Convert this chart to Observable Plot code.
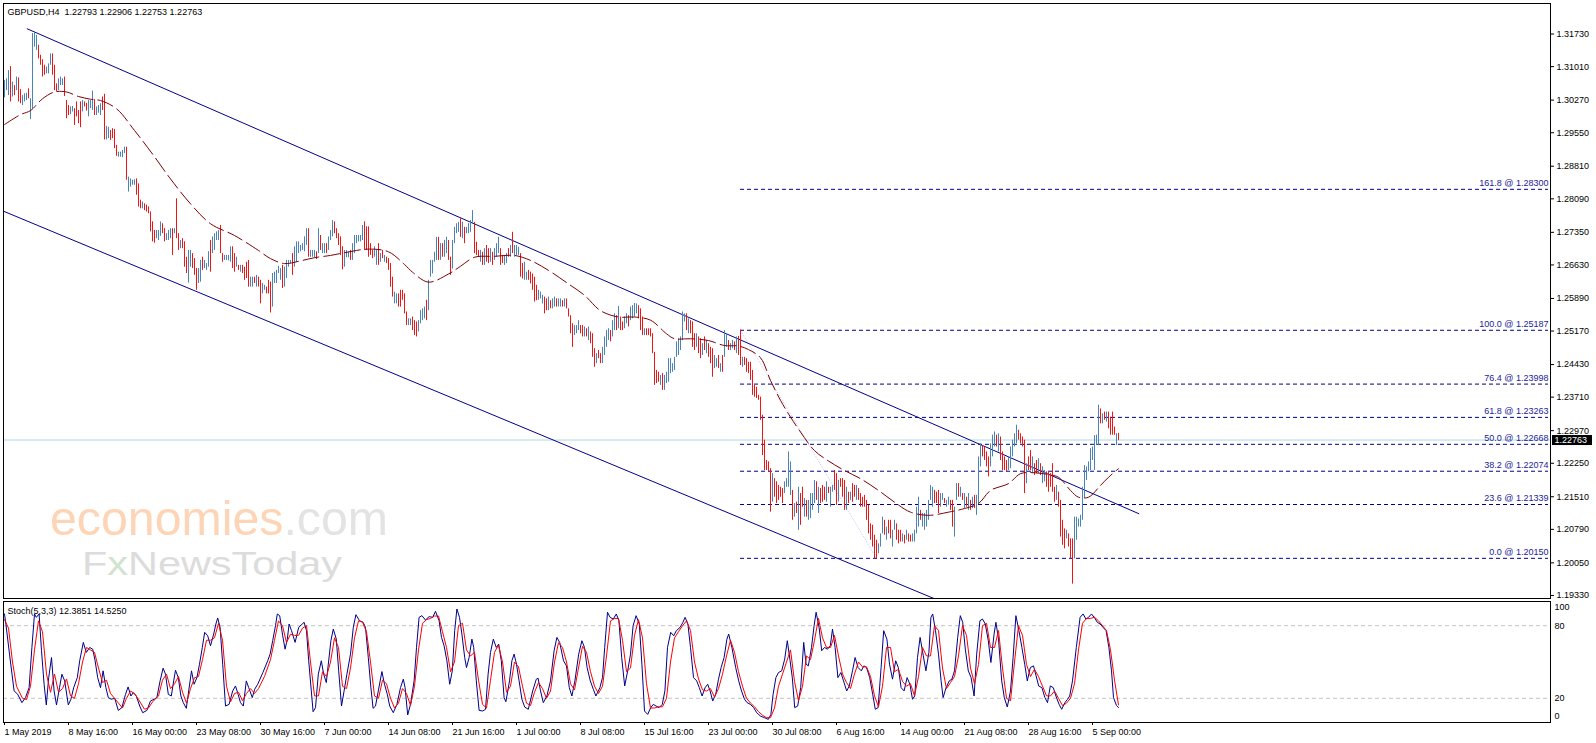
<!DOCTYPE html>
<html><head><meta charset="utf-8">
<script src="https://cdn.jsdelivr.net/npm/d3@7"></script>
<script src="https://cdn.jsdelivr.net/npm/@observablehq/plot@0.6"></script>
<style>
html,body{margin:0;padding:0;background:#fff;}
#wrap{position:relative;width:1596px;height:743px;overflow:hidden;background:#fff;}
#wrap svg{position:absolute;left:0;}
</style></head><body><div id="wrap"></div>
<script>
// ---------- DATA ----------
const headerText = "GBPUSD,H4\u00a0\u00a01.22793 1.22906 1.22753 1.22763";
const stochText = "Stoch(5,3,3) 12.3851 14.5250";
const lastPrice = 1.22763;
const priceTicks = [1.31730,1.31010,1.30270,1.29550,1.28810,1.28090,1.27350,1.26630,1.25890,1.25170,1.24430,1.23710,1.22970,1.22250,1.21510,1.20790,1.20050,1.19330];
const dateTickIdx = [0,32,64,96,128,160,192,224,256,288,320,352,384,416,448,480,512,544];
const dateLabels = ["1 May 2019","8 May 16:00","16 May 00:00","23 May 08:00","30 May 16:00","7 Jun 00:00","14 Jun 08:00","21 Jun 16:00","1 Jul 00:00","8 Jul 08:00","15 Jul 16:00","23 Jul 00:00","30 Jul 08:00","6 Aug 16:00","14 Aug 00:00","21 Aug 08:00","28 Aug 16:00","5 Sep 00:00"];
const fibRatio = ["161.8","100.0","76.4","61.8","50.0","38.2","23.6","0.0"];
const fibPrice = [1.28300,1.25187,1.23998,1.23263,1.22668,1.22074,1.21339,1.20150];
const fibFromIdx = 368, fibToIdx = 772;
const fibTrendIdx = [368, 436], fibTrendPrice = [1.25187, 1.20150];
const upperChannelIdx = [11.35, 567.15], upperChannelPrice = [1.31845, 1.21136];
const lowerChannelIdx = [-0.5, 470], lowerChannelPrice = [1.27817, 1.19166];
const stochLevels = [20, 80];

const barHigh = [
1.3070,1.3074,1.3092,1.3101,1.3067,1.3059,1.3078,1.3076,1.3050,1.3037,
1.3041,1.3042,1.3052,1.3030,1.3174,1.3177,1.3170,1.3148,1.3126,1.3116,
1.3104,1.3100,1.3107,1.3129,1.3129,1.3104,1.3063,1.3074,1.3078,1.3074,
1.3078,1.3026,1.3015,1.3012,1.3013,1.3008,1.3023,1.3004,1.3023,1.3026,
1.3023,1.3020,1.3026,1.3026,1.3047,1.3028,1.3012,1.3015,1.3019,1.3034,
1.3040,1.2969,1.2967,1.2960,1.2964,1.2962,1.2927,1.2912,1.2912,1.2916,
1.2923,1.2923,1.2857,1.2853,1.2850,1.2851,1.2853,1.2842,1.2806,1.2802,
1.2798,1.2795,1.2791,1.2780,1.2758,1.2739,1.2739,1.2739,1.2758,1.2754,
1.2743,1.2732,1.2739,1.2743,1.2743,1.2743,1.2809,1.2732,1.2717,1.2721,
1.2714,1.2680,1.2695,1.2695,1.2688,1.2677,1.2655,1.2655,1.2673,1.2680,
1.2673,1.2666,1.2692,1.2717,1.2725,1.2732,1.2736,1.2739,1.2750,1.2688,
1.2684,1.2684,1.2684,1.2703,1.2703,1.2688,1.2680,1.2662,1.2662,1.2662,
1.2658,1.2669,1.2673,1.2636,1.2636,1.2636,1.2640,1.2636,1.2629,1.2622,
1.2618,1.2614,1.2629,1.2625,1.2644,1.2647,1.2651,1.2660,1.2655,1.2662,
1.2658,1.2673,1.2673,1.2673,1.2688,1.2703,1.2714,1.2714,1.2706,1.2710,
1.2725,1.2743,1.2743,1.2695,1.2695,1.2695,1.2692,1.2743,1.2728,1.2710,
1.2710,1.2710,1.2725,1.2739,1.2761,1.2758,1.2743,1.2732,1.2725,1.2703,
1.2695,1.2695,1.2692,1.2695,1.2710,1.2728,1.2728,1.2728,1.2728,1.2750,
1.2758,1.2747,1.2747,1.2710,1.2695,1.2703,1.2695,1.2710,1.2688,1.2695,
1.2684,1.2680,1.2677,1.2666,1.2636,1.2603,1.2599,1.2599,1.2607,1.2607,
1.2599,1.2559,1.2544,1.2544,1.2548,1.2540,1.2537,1.2540,1.2562,1.2566,
1.2570,1.2585,1.2629,1.2673,1.2673,1.2691,1.2724,1.2724,1.2710,1.2710,
1.2717,1.2724,1.2717,1.2680,1.2717,1.2746,1.2754,1.2757,1.2765,1.2757,
1.2746,1.2746,1.2754,1.2761,1.2783,1.2757,1.2713,1.2695,1.2695,1.2691,
1.2699,1.2706,1.2699,1.2699,1.2691,1.2699,1.2710,1.2724,1.2699,1.2684,
1.2684,1.2688,1.2699,1.2706,1.2735,1.2706,1.2706,1.2702,1.2688,1.2666,
1.2669,1.2647,1.2651,1.2647,1.2643,1.2636,1.2618,1.2607,1.2603,1.2596,
1.2592,1.2588,1.2592,1.2584,1.2588,1.2592,1.2588,1.2588,1.2588,1.2584,
1.2588,1.2588,1.2566,1.2551,1.2533,1.2529,1.2529,1.2540,1.2529,1.2529,
1.2526,1.2522,1.2526,1.2515,1.2511,1.2478,1.2467,1.2474,1.2467,1.2481,
1.2504,1.2518,1.2522,1.2518,1.2540,1.2555,1.2551,1.2571,1.2548,1.2537,
1.2548,1.2555,1.2551,1.2570,1.2573,1.2578,1.2577,1.2573,1.2566,1.2548,
1.2522,1.2522,1.2522,1.2522,1.2511,1.2470,1.2430,1.2426,1.2419,1.2423,
1.2419,1.2426,1.2456,1.2456,1.2445,1.2459,1.2493,1.2500,1.2504,1.2559,
1.2555,1.2555,1.2544,1.2540,1.2537,1.2511,1.2511,1.2504,1.2500,1.2489,
1.2504,1.2496,1.2489,1.2481,1.2478,1.2463,1.2456,1.2463,1.2445,1.2463,
1.2518,1.2511,1.2496,1.2489,1.2496,1.2493,1.2504,1.2505,1.2519,1.2459,
1.2459,1.2456,1.2448,1.2448,1.2430,1.2397,1.2393,1.2375,1.2371,1.2331,
1.2276,1.2231,1.2228,1.2213,1.2202,1.2191,1.2184,1.2176,1.2172,1.2169,
1.2184,1.2191,1.2250,1.2228,1.2165,1.2136,1.2139,1.2172,1.2158,1.2172,
1.2147,1.2143,1.2143,1.2158,1.2158,1.2187,1.2184,1.2172,1.2169,1.2176,
1.2172,1.2184,1.2172,1.2172,1.2176,1.2209,1.2202,1.2187,1.2191,1.2191,
1.2187,1.2172,1.2161,1.2161,1.2180,1.2176,1.2176,1.2169,1.2158,1.2150,
1.2154,1.2143,1.2132,1.2091,1.2088,1.2066,1.2055,1.2047,1.2069,1.2106,
1.2099,1.2084,1.2099,1.2099,1.2077,1.2099,1.2091,1.2077,1.2077,1.2069,
1.2066,1.2077,1.2069,1.2066,1.2069,1.2077,1.2128,1.2150,1.2121,1.2114,
1.2114,1.2121,1.2143,1.2176,1.2172,1.2165,1.2161,1.2165,1.2158,1.2158,
1.2147,1.2143,1.2150,1.2143,1.2143,1.2128,1.2180,1.2180,1.2172,1.2158,
1.2158,1.2150,1.2158,1.2143,1.2150,1.2154,1.2154,1.2239,1.2268,1.2264,
1.2261,1.2250,1.2239,1.2268,1.2287,1.2294,1.2287,1.2290,1.2283,1.2250,
1.2239,1.2231,1.2239,1.2261,1.2276,1.2290,1.2309,1.2298,1.2290,1.2283,
1.2276,1.2224,1.2239,1.2253,1.2239,1.2224,1.2231,1.2235,1.2224,1.2217,
1.2209,1.2206,1.2206,1.2202,1.2224,1.2172,1.2176,1.2161,1.2143,1.2099,
1.2080,1.2077,1.2069,1.2058,1.2058,1.2106,1.2106,1.2102,1.2110,1.2172,
1.2220,1.2217,1.2228,1.2257,1.2261,1.2286,1.2287,1.2353,1.2345,1.2334,
1.2338,1.2338,1.2338,1.2327,1.2338,1.2305,1.2290,1.2291];

const barLow = [
1.3032,1.3048,1.3037,1.3023,1.3034,1.3037,1.3048,1.3023,1.3019,1.3015,
1.3023,1.3026,1.3030,1.2984,1.3008,1.3144,1.3137,1.3118,1.3104,1.3078,
1.3082,1.3085,1.3085,1.3104,1.3082,1.3048,1.3045,1.3048,1.3059,1.3059,
1.3035,1.2986,1.2993,1.2995,1.3001,1.2971,1.2990,1.2975,1.2966,1.3001,
1.3012,1.3003,1.2990,1.3008,1.3004,1.2993,1.2993,1.2998,1.2993,1.3004,
1.2939,1.2939,1.2942,1.2938,1.2942,1.2920,1.2903,1.2901,1.2901,1.2900,
1.2909,1.2850,1.2824,1.2835,1.2839,1.2839,1.2817,1.2791,1.2787,1.2787,
1.2783,1.2780,1.2776,1.2736,1.2714,1.2711,1.2721,1.2717,1.2726,1.2732,
1.2714,1.2717,1.2717,1.2721,1.2684,1.2732,1.2721,1.2695,1.2699,1.2699,
1.2658,1.2644,1.2623,1.2658,1.2655,1.2640,1.2607,1.2622,1.2625,1.2651,
1.2655,1.2651,1.2658,1.2647,1.2688,1.2695,1.2717,1.2717,1.2688,1.2669,
1.2673,1.2673,1.2672,1.2669,1.2655,1.2647,1.2658,1.2651,1.2647,1.2644,
1.2629,1.2633,1.2614,1.2614,1.2614,1.2622,1.2614,1.2614,1.2577,1.2599,
1.2607,1.2599,1.2599,1.2557,1.2570,1.2622,1.2622,1.2644,1.2629,1.2611,
1.2614,1.2633,1.2658,1.2666,1.2640,1.2658,1.2669,1.2688,1.2692,1.2695,
1.2692,1.2706,1.2680,1.2680,1.2680,1.2679,1.2675,1.2688,1.2695,1.2688,
1.2688,1.2688,1.2695,1.2717,1.2725,1.2732,1.2721,1.2706,1.2684,1.2652,
1.2658,1.2679,1.2679,1.2673,1.2673,1.2688,1.2710,1.2714,1.2714,1.2717,
1.2695,1.2695,1.2680,1.2684,1.2677,1.2680,1.2662,1.2662,1.2669,1.2677,
1.2669,1.2666,1.2651,1.2614,1.2592,1.2577,1.2577,1.2570,1.2570,1.2585,
1.2555,1.2529,1.2529,1.2529,1.2518,1.2507,1.2504,1.2515,1.2533,1.2540,
1.2544,1.2540,1.2562,1.2636,1.2643,1.2669,1.2673,1.2673,1.2673,1.2680,
1.2680,1.2688,1.2673,1.2640,1.2654,1.2710,1.2732,1.2735,1.2724,1.2721,
1.2710,1.2732,1.2732,1.2735,1.2754,1.2688,1.2684,1.2680,1.2669,1.2662,
1.2662,1.2669,1.2666,1.2669,1.2662,1.2673,1.2680,1.2688,1.2662,1.2666,
1.2662,1.2666,1.2680,1.2680,1.2688,1.2680,1.2684,1.2684,1.2636,1.2632,
1.2629,1.2629,1.2629,1.2621,1.2607,1.2581,1.2584,1.2585,1.2588,1.2577,
1.2555,1.2562,1.2562,1.2566,1.2566,1.2570,1.2570,1.2570,1.2570,1.2570,
1.2570,1.2566,1.2548,1.2511,1.2481,1.2507,1.2511,1.2518,1.2511,1.2504,
1.2504,1.2504,1.2496,1.2489,1.2459,1.2437,1.2445,1.2456,1.2445,1.2445,
1.2463,1.2481,1.2496,1.2493,1.2504,1.2518,1.2518,1.2522,1.2518,1.2518,
1.2522,1.2533,1.2526,1.2540,1.2544,1.2548,1.2555,1.2544,1.2518,1.2507,
1.2507,1.2507,1.2507,1.2504,1.2467,1.2397,1.2401,1.2404,1.2397,1.2386,
1.2386,1.2401,1.2404,1.2423,1.2426,1.2430,1.2459,1.2463,1.2474,1.2496,
1.2537,1.2518,1.2511,1.2511,1.2481,1.2474,1.2481,1.2467,1.2456,1.2463,
1.2474,1.2467,1.2459,1.2445,1.2415,1.2434,1.2437,1.2434,1.2426,1.2426,
1.2459,1.2481,1.2474,1.2474,1.2478,1.2474,1.2467,1.2463,1.2441,1.2437,
1.2441,1.2426,1.2423,1.2408,1.2375,1.2371,1.2368,1.2364,1.2320,1.2242,
1.2209,1.2209,1.2206,1.2117,1.2139,1.2150,1.2136,1.2143,1.2150,1.2136,
1.2158,1.2172,1.2172,1.2154,1.2099,1.2106,1.2114,1.2077,1.2088,1.2128,
1.2106,1.2106,1.2099,1.2103,1.2121,1.2136,1.2143,1.2114,1.2136,1.2139,
1.2143,1.2139,1.2158,1.2128,1.2161,1.2165,1.2132,1.2139,1.2172,1.2150,
1.2121,1.2121,1.2136,1.2143,1.2139,1.2150,1.2143,1.2143,1.2128,1.2128,
1.2128,1.2099,1.2069,1.2055,1.2040,1.2014,1.2014,1.2025,1.2040,1.2069,
1.2066,1.2055,1.2069,1.2058,1.2040,1.2077,1.2055,1.2047,1.2051,1.2051,
1.2047,1.2055,1.2051,1.2051,1.2051,1.2051,1.2069,1.2084,1.2099,1.2084,
1.2077,1.2084,1.2099,1.2143,1.2128,1.2136,1.2136,1.2114,1.2128,1.2143,
1.2136,1.2128,1.2132,1.2121,1.2084,1.2062,1.2143,1.2150,1.2150,1.2143,
1.2125,1.2128,1.2121,1.2121,1.2125,1.2125,1.2110,1.2136,1.2217,1.2239,
1.2231,1.2217,1.2195,1.2217,1.2239,1.2261,1.2261,1.2250,1.2231,1.2209,
1.2209,1.2206,1.2209,1.2213,1.2239,1.2261,1.2268,1.2276,1.2268,1.2261,
1.2158,1.2180,1.2209,1.2209,1.2202,1.2198,1.2202,1.2202,1.2198,1.2180,
1.2184,1.2172,1.2161,1.2172,1.2161,1.2139,1.2143,1.2128,1.2062,1.2044,
1.2036,1.2058,1.2040,1.2014,1.1958,1.2014,1.2055,1.2084,1.2084,1.2099,
1.2147,1.2187,1.2206,1.2209,1.2231,1.2209,1.2264,1.2264,1.2312,1.2312,
1.2320,1.2316,1.2301,1.2287,1.2287,1.2287,1.2264,1.2275];

const barUp = [
1,1,1,0,1,0,1,0,0,1, 1,1,0,1,1,1,1,0,0,0, 0,1,1,1,0,0,0,1,1,1, 0,0,0,1,1,0,0,0,0,1,
0,0,1,1,1,0,1,1,1,0, 0,1,1,0,0,0,0,1,1,1, 1,0,1,1,1,1,0,0,0,1, 0,0,0,0,0,0,1,1,1,0,
0,1,1,1,0,1,0,0,1,0, 0,0,1,1,0,0,0,1,1,0, 1,1,1,0,1,1,1,1,0,0, 1,1,1,1,0,0,1,0,1,0,
0,0,0,1,1,0,1,0,0,1, 1,0,0,0,1,1,1,1,1,0, 1,1,1,1,0,1,1,1,1,1, 1,1,0,1,1,1,0,1,0,1,
1,0,1,1,1,0,0,0,0,0, 1,1,1,0,1,1,1,1,1,1, 0,0,0,0,0,1,1,0,1,0, 1,0,0,0,0,1,1,0,0,0,
0,0,1,1,0,0,0,1,1,1, 1,0,1,1,1,1,1,0,1,0, 1,1,0,0,1,1,1,1,0,1, 0,1,1,1,1,0,0,0,1,0,
1,0,0,1,0,1,1,1,0,0, 1,1,0,1,0,1,1,1,0,0, 1,1,0,0,0,0,0,1,1,1, 0,0,1,0,1,1,0,1,1,0,
1,0,0,0,0,1,1,1,0,0, 1,0,1,0,0,0,1,0,0,1, 1,1,1,0,1,1,0,1,0,0, 1,1,0,1,1,1,1,0,0,0,
1,0,0,0,0,0,0,0,1,0, 1,1,1,1,1,1,1,1,1,1, 1,0,1,0,0,0,1,0,0,1, 0,1,0,0,0,1,1,0,1,0,
1,1,0,1,1,0,1,0,0,1, 0,0,0,0,0,0,0,0,0,0, 0,0,0,0,1,0,0,0,0,0, 1,1,1,1,0,1,0,1,0,0,
1,0,1,1,1,1,0,1,0,0, 0,1,0,1,1,0,0,1,0,0, 0,1,0,1,0,0,1,0,0,0, 0,0,0,0,0,0,0,1,1,1,
0,1,0,0,1,1,0,0,0,1, 0,1,0,0,1,1,1,1,0,1, 1,1,1,1,1,0,0,0,1,1, 0,1,1,0,0,1,1,0,1,0,
1,0,1,0,1,0,1,1,1,0, 0,0,0,1,1,1,0,1,0,0, 0,0,1,1,1,1,1,0,0,0, 0,1,0,0,1,0,0,1,0,1,
1,0,0,0,0,0,1,0,0,0, 0,1,0,0,0,1,1,1,1,1, 1,1,1,1,1,1,1,1,0,1, 0,1,0,0,0,0,1,0];

// moving average (dashed) read at key points: [bar index, price]
const maLine = [[0,1.2973],[8,1.2995],[13,1.3004],[19,1.3030],[25,1.3045],[31,1.3045],[37,1.3035],[43,1.3029],[48,1.3026],[56,1.3008],[65,1.2960],[74,1.2908],[83,1.2853],[93,1.2798],[103,1.2754],[115,1.2728],[127,1.2695],[133,1.2677],[140,1.2666],[148,1.2672],[155,1.2679],[163,1.2684],[170,1.2690],[182,1.2698],[192,1.2692],[200,1.2664],[204,1.2647],[212,1.2625],[222,1.2643],[228,1.2660],[235,1.2680],[245,1.2682],[255,1.2684],[263,1.2673],[272,1.2651],[282,1.2621],[290,1.2596],[298,1.2562],[307,1.2548],[315,1.2548],[323,1.2541],[331,1.2511],[335,1.2500],[343,1.2500],[352,1.2496],[360,1.2485],[367,1.2484],[372,1.2476],[378,1.2458],[383,1.2408],[388,1.2364],[393,1.2327],[398,1.2294],[405,1.2253],[412,1.2230],[420,1.2209],[428,1.2191],[437,1.2165],[445,1.2139],[453,1.2117],[462,1.2110],[472,1.2117],[480,1.2125],[487,1.2136],[493,1.2165],[502,1.2180],[508,1.2202],[515,1.2204],[522,1.2200],[527,1.2194],[533,1.2165],[537,1.2150],[542,1.2150],[548,1.2176],[552,1.2194],[557,1.2213]];

// stochastic %K (blue) key points: [bar index, value]
const stochMain = [[0,89.7],[0.7,81.4],[2.5,56.5],[4.8,26.1],[6.6,23.3],[8.7,16.4],[10.5,20.6],[12.3,28.8],[13.7,62],[15,89.7],[15.9,86.9],[17.3,89.7],[18.5,59.3],[19.8,31.6],[20.9,14.5],[22.1,37.1],[23.5,53.7],[24.8,26.1],[26,14.5],[27.5,28.8],[28.7,39.9],[30.1,34.4],[31.9,14.5],[33.2,19.2],[34.6,28.8],[36.4,37.1],[37.6,51],[39.4,66.2],[40.9,57.9],[42.6,62],[44.1,60.6],[45.3,51],[46.6,37.1],[48,28.8],[49.3,42.7],[50.7,28.8],[51.9,20.6],[53.4,19.2],[55.1,20],[56.9,10],[58.7,12.3],[60.5,23.3],[61.8,29.4],[63.2,21.9],[64.4,24.7],[65.9,21.9],[67.6,13.6],[69.1,8.1],[71.2,10],[73,17.8],[74.8,19.2],[76.2,20.6],[77.8,34.4],[79.3,44.9],[80.5,39.9],[81.9,23.3],[83.4,21.9],[84.6,34.4],[85.5,43.2],[86.9,37.1],[88.2,21.9],[89.4,16.4],[90.9,11.7],[92.1,26.1],[93.5,42.7],[94.8,31.6],[96.2,37.1],[97.5,48.2],[98.9,62],[100.1,74.5],[101.6,71.7],[103,63.4],[104.6,73.1],[105.7,81.4],[106.6,86.4],[107.8,78.6],[109.1,48.2],[110.5,13.6],[112.3,15],[114.1,26.1],[115.5,30.2],[116.8,23.3],[118,16.4],[119.4,13.6],[120.9,34.4],[122.1,28.8],[123.9,20.6],[125.1,27.5],[126.6,31.6],[129.2,41.3],[131.6,51],[132.8,56.5],[134.1,67.6],[135.5,80],[136.4,89.7],[137.6,88.3],[139.1,71.7],[140.3,60.6],[141.4,68.9],[142.3,81.4],[143.5,75.9],[145.3,66.2],[147.1,78.6],[149.8,82.8],[151,75.9],[152.1,51],[153.4,26.1],[154.3,8.9],[155.5,12.3],[156.9,39.9],[158.4,51],[159.6,39.9],[160.9,33],[161.9,48.2],[163.2,67.6],[164.4,77.2],[165.9,68.9],[167.1,42.7],[168.5,13.6],[169.8,26.1],[171.2,39.9],[173,56.5],[174.4,78.6],[175.7,89.1],[177.5,84.1],[179.3,82.8],[180.5,78.6],[181.9,53.7],[183.2,28.8],[184.3,11.7],[185.5,13.6],[186.9,26.1],[188.7,42.1],[190,31.6],[191.4,23.3],[192.6,13.6],[194.4,8.1],[196.2,15],[198,28.8],[199.4,35.8],[200.3,28.8],[201.6,6.2],[203,15],[204.8,34.4],[206,62],[207.3,86.9],[208.7,88.3],[210.5,84.7],[212.3,87.5],[214.1,86.9],[215.5,91.9],[217.3,84.1],[218.5,70.3],[219.8,63.4],[221.2,51],[222.6,31.6],[223.9,42.7],[225.1,75.9],[226.2,93.8],[227.5,86.9],[228.7,73.1],[230.1,53.7],[231,45.4],[232.3,53.7],[233.7,68.9],[234.6,62],[235.9,34.4],[237.3,10],[239.1,9.5],[240.5,10.9],[241.8,39.9],[243,57.9],[244.4,68.9],[245.9,62],[247.1,64.8],[248.4,51],[249.8,20.6],[250.7,17.2],[252.5,34.4],[253.7,51],[254.8,56.5],[256,48.2],[257.3,34.4],[258.7,19.2],[260.1,12.8],[261.9,10.9],[264.1,26.1],[265.9,35.8],[266.8,36.6],[268,26.1],[269.4,16.4],[271.2,21.9],[273,34.4],[274.8,59.3],[276.2,70.3],[277.6,66.2],[279.5,51],[281,46.8],[282.4,28.8],[283.7,21.9],[285.2,34.4],[287.1,56.5],[288.7,67.6],[290,62],[291.3,45.4],[292.9,34.4],[294.4,27.5],[295.7,21.9],[297.7,28.8],[299,37.1],[300.1,62],[301.5,91.1],[302.8,86.9],[304.4,85.5],[305.9,89.7],[307.2,84.1],[308.6,53.7],[310.1,30.2],[311.6,42.7],[313,56.5],[314.3,80],[315.8,88.3],[317.4,81.4],[318.7,48.2],[320,9.5],[321.6,6.7],[323.1,12.3],[324.4,15],[325.8,13.6],[327.3,12.3],[328.9,15],[330.2,26.1],[331.5,62],[333.1,74.5],[334.6,71.7],[335.9,75.9],[337.8,78.6],[339.2,82.8],[340.3,86.9],[341.7,81.4],[343,62],[344.5,37.1],[346.1,34.4],[347.4,28.8],[348.8,21.9],[350.3,28.8],[351.6,31.6],[352.8,26.1],[354.1,17.8],[355.6,23.3],[357,35.8],[358.3,45.4],[359.8,53.7],[361.2,68.9],[362.1,73.1],[363.7,62],[365.6,45.4],[367.1,34.4],[368.5,26.1],[370,19.2],[371.3,16.4],[372.9,15],[374.6,12.3],[376.1,8.1],[378,5.3],[379.9,4],[381.9,2.6],[383.2,6.7],[384.3,23.3],[385.7,37.1],[387,41.3],[388.6,42.7],[390.1,52.4],[391.4,67.6],[392.8,51],[393.9,37.1],[395.1,12.3],[396.6,13.6],[398.1,28.8],[399.6,66.2],[400.8,48.2],[401.9,46.8],[403.5,62],[404.8,80],[405.8,91.1],[407.3,78.6],[408.6,59.3],[410,62],[411.5,60.6],[412.9,63.4],[414,77.2],[415.3,62],[416.7,37.1],[418.2,41.3],[419.5,34.4],[421.1,26.1],[422.4,30.2],[424,42.7],[425.3,53.7],[426.8,45.4],[428.4,42.7],[429.7,46.8],[431,45.4],[432.6,37.1],[434.1,23.3],[435.4,10.9],[436.8,12.3],[438.3,45.4],[439.6,75.9],[441.2,68.9],[442.5,48.2],[444,35.8],[445.6,51],[446.9,45.4],[448.3,28.8],[449.8,26.1],[451.3,37.1],[452.7,31.6],[454,19.2],[455.1,21.9],[456.5,53.7],[457.8,70.3],[459.4,55.1],[460.7,42.7],[462.2,57.9],[463.2,86.9],[464.1,89.7],[465.5,75.9],[467,56.5],[468.3,34.4],[469.3,20.6],[470.8,28.8],[472.4,34.4],[473.7,35.8],[475,42.7],[476.6,70.3],[477.9,88.3],[479.1,82.8],[480.4,60.6],[481.9,42.7],[483.3,37.1],[484.8,21.9],[486.1,56.5],[487.7,84.1],[489,85.5],[490.4,81.4],[491.9,67.6],[493.2,49.6],[494.8,73.1],[495.7,82.8],[497,68.9],[498.6,34.4],[499.9,20.6],[501.4,12.8],[503,26.1],[504.3,53.7],[505.7,88.3],[507.2,75.9],[508.7,62],[510.1,48.2],[511.4,34.4],[512.9,45.4],[514.5,46.8],[515.8,38.5],[517.1,30.2],[518.7,28.8],[520.2,20.6],[521.5,16.4],[522.9,30.2],[524.4,28.8],[525.7,21.9],[527.3,15],[528.6,10.9],[530.2,16.4],[531.5,19.2],[532.6,21.9],[534,34.4],[535.9,62],[537.8,86.9],[539.3,89.7],[540.7,85.5],[542,86.9],[543.5,89.7],[545.1,86.4],[546.4,82.8],[547.8,81.4],[549.3,78.6],[550.8,75.9],[552.2,62],[553.5,42.7],[554.5,20.6],[556,14],[557,12.39]];

// stochastic %D (red signal) key points: [bar index, value]
const stochSignal = [[0,85],[2,78],[4,50],[6,30],[9,20],[11,19],[13,30],[15,60],[17,84],[19,75],[21,40],[23,25],[25,40],[27,25],[29,28],[31,36],[33,22],[35,20],[37,32],[39,50],[41,62],[43,60],[45,58],[47,45],[49,33],[51,35],[53,24],[55,20],[57,16],[59,12],[61,20],[63,26],[65,24],[67,19],[70,11],[72,12],[74,17],[77,22],[79,35],[81,40],[83,28],[85,32],[87,38],[89,25],[91,16],[93,28],[95,37],[97,38],[99,52],[101,68],[103,68],[105,70],[107,82],[109,68],[111,30],[113,17],[115,24],[117,25],[119,18],[121,24],[123,28],[125,24],[127,28],[130,38],[133,52],[135,68],[137,84],[139,80],[141,66],[143,73],[145,72],[147,72],[149,78],[151,80],[153,50],[155,22],[157,22],[159,42],[161,38],[163,50],[165,70],[167,62],[169,30],[171,28],[173,45],[175,70],[177,84],[179,83],[181,75],[183,50],[185,22],[187,20],[189,35],[191,32],[193,20],[195,12],[197,16],[199,28],[201,24],[203,14],[205,30],[207,60],[209,82],[211,85],[213,86],[215,88],[217,88],[219,75],[221,62],[223,42],[225,50],[227,80],[229,82],[231,60],[233,55],[235,58],[237,35],[239,15],[241,12],[243,35],[245,58],[247,64],[249,50],[251,25],[253,30],[255,50],[257,46],[259,30],[261,16],[263,14],[265,25],[267,33],[269,28],[271,20],[273,26],[275,50],[277,66],[279,62],[281,50],[283,32],[285,27],[287,45],[289,63],[291,58],[293,42],[295,30],[297,24],[299,30],[301,55],[303,84],[305,86],[307,86],[309,68],[311,42],[313,45],[315,72],[317,85],[319,70],[321,32],[323,12],[325,12],[327,13],[329,13],[331,20],[333,50],[335,70],[337,75],[339,80],[341,84],[343,76],[345,50],[347,36],[349,27],[351,26],[353,28],[355,21],[357,28],[359,40],[361,55],[363,68],[365,58],[367,42],[369,30],[371,20],[373,16],[375,13],[377,9],[379,6],[381,4],[383,4],[385,12],[387,30],[389,40],[391,50],[393,60],[395,34],[397,18],[399,30],[401,55],[403,52],[405,68],[407,86],[409,70],[411,62],[413,62],[415,72],[417,55],[419,40],[421,33],[423,28],[425,40],[427,50],[429,46],[431,46],[433,38],[435,22],[437,13],[439,30],[441,62],[443,62],[445,42],[447,44],[449,34],[451,30],[453,32],[455,22],[457,38],[459,62],[461,55],[463,55],[465,80],[467,76],[469,45],[471,28],[473,33],[475,38],[477,55],[479,80],[481,72],[483,45],[485,32],[487,48],[489,80],[491,82],[493,62],[495,62],[497,76],[499,45],[501,20],[503,18],[505,50],[507,80],[509,72],[511,48],[513,38],[515,44],[517,38],[519,30],[521,22],[523,22],[525,26],[527,20],[529,14],[531,16],[533,20],[535,32],[537,60],[539,82],[541,86],[543,86],[545,87],[547,84],[549,80],[551,76],[553,60],[555,35],[557,14.525]];

// ---------- CHART ----------
const FONT = "'Liberation Sans', Arial, sans-serif";
const W = 1596;
const xDomain = [-0.5, 773];
const priceDomain = [1.19263, 1.32404];
const n = Math.min(barHigh.length, barLow.length, barUp.length);
const bars = d3.range(n).map(i => ({i, h: barHigh[i], l: barLow[i], up: barUp[i]}));
const fibs = fibPrice.map((p, k) => ({p, r: fibRatio[k]}));
const upper = upperChannelIdx.map((i, k) => ({i, p: upperChannelPrice[k]}));
const lower = lowerChannelIdx.map((i, k) => ({i, p: lowerChannelPrice[k]}));
const fibTrend = fibTrendIdx.map((i, k) => ({i, p: fibTrendPrice[k]}));
const common = {width: W, marginLeft: 3, marginRight: 46,
  style: {fontFamily: FONT, fontSize: "9px", background: "transparent", overflow: "visible", color: "#000"}};

const priceChart = Plot.plot({
  ...common, height: 600, marginTop: 3, marginBottom: 2,
  x: {domain: xDomain, axis: null},
  y: {domain: priceDomain, axis: null},
  marks: [
    Plot.ruleY([lastPrice], {stroke: "#a9dbe3"}),
    Plot.line(fibTrend, {x: "i", y: "p", stroke: "#d6d6f2", strokeWidth: 1, strokeDasharray: "1,2"}),
    Plot.ruleY(fibs, {y: "p", x1: () => fibFromIdx, x2: () => fibToIdx, stroke: "#00008b", strokeDasharray: "4,3"}),
    Plot.text(fibs, {x: () => fibToIdx, y: "p", text: d => `${d.r} @ ${d.p.toFixed(5)}`, textAnchor: "end", dy: -6, fill: "#22229a"}),
    Plot.line(upper, {x: "i", y: "p", stroke: "#00008b", strokeWidth: 1, clip: true}),
    Plot.line(lower, {x: "i", y: "p", stroke: "#00008b", strokeWidth: 1, clip: true}),
    Plot.ruleX(bars.filter(d => d.up), {x: "i", y1: "l", y2: "h", stroke: "#4a83b6"}),
    Plot.ruleX(bars.filter(d => !d.up), {x: "i", y1: "l", y2: "h", stroke: "#f01414"}),
    Plot.line(maLine, {x: d => d[0], y: d => d[1], curve: "catmull-rom", stroke: "#800000", strokeWidth: 1, strokeDasharray: "16,5"}),
    Plot.axisY(priceTicks, {anchor: "right", tickSize: 3, tickPadding: 3, tickFormat: d => d.toFixed(5)}),
    Plot.frame({stroke: "#000"}),
    Plot.text([headerText], {frameAnchor: "top-left", dx: 4, dy: 5, text: d => d, fill: "#000"})
  ]
});

const stochChart = Plot.plot({
  ...common, height: 143, marginTop: 1, marginBottom: 21,
  x: {domain: xDomain, axis: null},
  y: {domain: [0, 100], axis: null},
  marks: [
    Plot.ruleY(stochLevels, {stroke: "#c4c4c4", strokeDasharray: "4,3"}),
    Plot.line(stochMain, {x: d => d[0], y: d => d[1], stroke: "#00008b", strokeWidth: 1}),
    Plot.line(stochSignal, {x: d => d[0], y: d => d[1], stroke: "#ff0000", strokeWidth: 1}),
    Plot.frame({stroke: "#000"}),
    Plot.axisX(dateTickIdx, {anchor: "bottom", tickSize: 3, tickPadding: 3, textAnchor: "start",
      tickFormat: d => dateLabels[dateTickIdx.indexOf(d)]}),
    Plot.text([80, 20], {y: d => d, frameAnchor: "right", textAnchor: "start", dx: 4, text: d => String(d), fill: "#000"}),
    Plot.text([100], {y: d => d, frameAnchor: "right", textAnchor: "start", dx: 4, dy: 6, text: d => String(d), fill: "#000"}),
    Plot.text([0], {y: d => d, frameAnchor: "right", textAnchor: "start", dx: 4, dy: -6, text: d => String(d), fill: "#000"}),
    Plot.text([stochText], {frameAnchor: "top-left", dx: 4, dy: 6, text: d => d, fill: "#000"})
  ]
});

const wrap = document.getElementById("wrap");
priceChart.style.top = "0px";
stochChart.style.top = "600px";
wrap.appendChild(priceChart);
wrap.appendChild(stochChart);

// price label box on the right axis and watermark
const ySc = (() => { try { const s = priceChart.scale("y"); return v => s.apply(v); } catch (e) { return d3.scaleLinear(priceDomain, [598, 3]); } })();
const svg = d3.select(priceChart);
const yl = ySc(lastPrice);
const box = svg.append("g").attr("text-anchor", "start");
box.append("rect").attr("x", 1552).attr("y", yl - 4.5).attr("width", 40).attr("height", 10).attr("fill", "#000");
box.append("text").attr("x", 1554.5).attr("y", yl + 3.3).attr("fill", "#fff").attr("font-size", 9).attr("font-family", FONT).text(lastPrice.toFixed(5));

const wm = svg.insert("g", "g").attr("font-family", FONT).attr("text-anchor", "start");
const t1 = wm.append("text").attr("x", 50).attr("y", 535).attr("font-size", 48).attr("textLength", 338).attr("lengthAdjust", "spacingAndGlyphs");
t1.append("tspan").attr("fill", "#fdd5b6").text("economies");
t1.append("tspan").attr("fill", "#e3e3e3").text(".com");
const t2 = wm.append("text").attr("x", 82).attr("y", 575).attr("font-size", 33).attr("textLength", 260).attr("lengthAdjust", "spacingAndGlyphs");
t2.append("tspan").attr("fill", "#dcdcdc").text("F");
t2.append("tspan").attr("fill", "#cfe3cf").text("x");
t2.append("tspan").attr("fill", "#dcdcdc").text("NewsToday");
</script></body></html>
